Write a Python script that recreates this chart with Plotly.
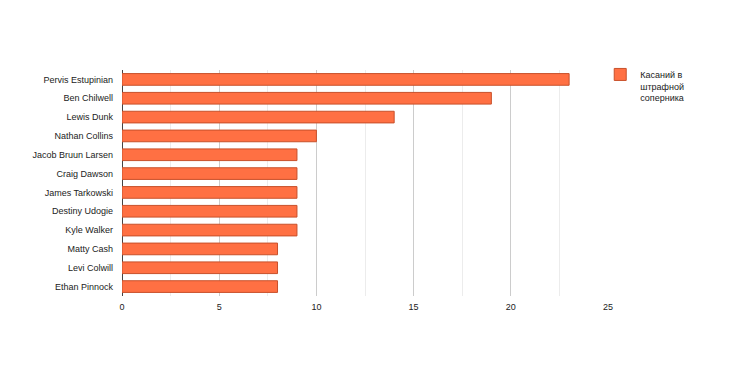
import plotly.graph_objects as go

players = ["Pervis Estupinian", "Ben Chilwell", "Lewis Dunk", "Nathan Collins",
           "Jacob Bruun Larsen", "Craig Dawson", "James Tarkowski", "Destiny Udogie",
           "Kyle Walker", "Matty Cash", "Levi Colwill", "Ethan Pinnock"]
touches = [23, 19, 14, 10, 9, 9, 9, 9, 9, 8, 8, 8]
series_name = "Касаний в<br>штрафной<br>соперника"
x_ticks = [0, 5, 10, 15, 20, 25]

fig = go.Figure()
fig.add_trace(go.Bar(
    y=players, x=touches, orientation="h", name=series_name,
    marker=dict(color="#FF7043", line=dict(color="#C8502A", width=1)),
    showlegend=True,
))
fig.update_layout(
    width=730, height=365,
    margin=dict(l=114, r=130, t=62, b=77),
    paper_bgcolor="white", plot_bgcolor="white",
    font=dict(family="Liberation Sans, Arial, sans-serif", size=9, color="#222"),
    bargap=0.38,
    legend=dict(x=0.984, y=1.035, xanchor="left", yanchor="top", valign="top",
                font=dict(size=9, color="#222"), tracegroupgap=0,
                itemwidth=30, bgcolor="rgba(0,0,0,0)"),
    xaxis=dict(range=[0, 25], tickvals=x_ticks, showgrid=True, gridcolor="#cccccc",
               gridwidth=1, zeroline=True, zerolinecolor="#444", zerolinewidth=1,
               ticks="", ticklabelstandoff=4, tickfont=dict(size=9, color="#222"),
               minor=dict(dtick=2.5, showgrid=True, gridcolor="#ececec"),
               fixedrange=True),
    yaxis=dict(autorange="reversed", ticks="", ticklabelstandoff=8,
               tickfont=dict(size=9, color="#222"), showgrid=False),
)
fig.write_html("out.html")
